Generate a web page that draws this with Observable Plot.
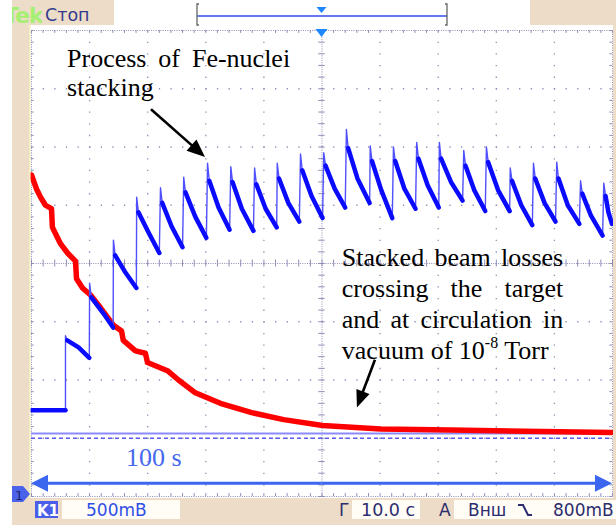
<!DOCTYPE html>
<html><head><meta charset="utf-8">
<script src="https://cdn.jsdelivr.net/npm/d3@7"></script>
<script src="https://cdn.jsdelivr.net/npm/@observablehq/plot@0.6"></script>
<style>
body{margin:0;background:#fff;}
#wrap{position:relative;width:616px;height:525px;overflow:hidden;}
#wrap svg{position:absolute;left:0;top:0;}
.serif text, .serif tspan{font-family:"Liberation Serif","Times New Roman",serif;}
.sans text{font-family:"DejaVu Sans",sans-serif;}
</style></head><body><div id="wrap"></div>
<script>
// ---------- DATA (time in s, signal in V; 10 s/div, 0.5 V/div) ----------
const blueBaseT = [0, 5.85];
const blueBaseV = [0.74, 0.74];
const jumpT   = [5.85, 10.0, 14.1, 18.1, 22.2, 26.2, 30.3, 34.3, 38.4, 42.3, 46.3, 50.3, 54.2, 58.3, 62.3, 66.3, 70.2, 74.4, 78.3, 82.4, 86.4, 90.4, 94.5, 98.5];
const peakV   = [1.38, 1.83, 2.20, 2.57, 2.65, 2.74, 2.86, 2.83, 2.82, 2.86, 2.94, 2.95, 3.15, 3.01, 3.00, 3.04, 3.04, 2.97, 3.00, 2.82, 2.86, 2.87, 2.71, 2.69];
const startV  = [1.34, 1.71, 2.07, 2.44, 2.52, 2.61, 2.71, 2.70, 2.68, 2.73, 2.80, 2.84, 2.99, 2.88, 2.88, 2.90, 2.90, 2.84, 2.87, 2.71, 2.73, 2.73, 2.60, 2.58];
const midT    = [8.1, 12.4, 16.2, 20.1, 24.1, 28.2, 32.2, 36.2, 40.3, 44.2, 48.2, 52.2, 56.1, 60.2, 64.2, 68.2, 72.2, 76.2, 80.3, 84.3, 88.3, 92.3, 96.3, 99.3];
const midV    = [1.28, 1.57, 1.92, 2.27, 2.32, 2.40, 2.48, 2.47, 2.47, 2.52, 2.58, 2.64, 2.73, 2.63, 2.64, 2.67, 2.70, 2.63, 2.63, 2.50, 2.52, 2.50, 2.41, 2.44];
const endT    = [9.95, 14.05, 18.05, 22.0, 26.0, 30.1, 34.1, 38.2, 42.2, 46.1, 50.1, 54.0, 58.2, 62.1, 66.1, 70.1, 74.2, 78.1, 82.3, 86.2, 90.2, 94.3, 98.3, 99.9];
const valleyV = [1.19, 1.45, 1.79, 2.09, 2.14, 2.22, 2.29, 2.28, 2.31, 2.36, 2.39, 2.48, 2.52, 2.39, 2.47, 2.48, 2.54, 2.45, 2.45, 2.33, 2.36, 2.34, 2.24, 2.34];

const redT = [0, 0.86, 1.55, 2.41, 3.44, 3.6, 4.99, 6.2, 7.57, 7.75, 8.78, 10.15, 11.88, 14.1, 15.5, 15.8, 17.9, 19.6, 19.97, 23.4, 25.3, 28.2, 32.5, 37.9, 43.4, 50.1, 60.1, 72.1, 99.8];
const redV = [2.76, 2.64, 2.57, 2.50, 2.47, 2.31, 2.17, 2.09, 2.02, 1.87, 1.79, 1.73, 1.62, 1.47, 1.42, 1.34, 1.25, 1.23, 1.15, 1.08, 1.00, 0.89, 0.80, 0.72, 0.66, 0.61, 0.58, 0.57, 0.55];

const refSolid = [0.54];
const refDashed = [0.50];

// axis ticks / grid
const majorT = [10, 20, 30, 40, 60, 70, 80, 90];
const majorV = [0.5, 1, 1.5, 2.5, 3, 3.5];
const minorT = d3.range(0, 100.001, 2);
const minorV = d3.range(0, 4.0001, 0.1);

// texts
const noteA = ["Process of Fe-nuclei", "stacking"];
const noteB = ["Stacked beam losses", "crossing the target", "and at circulation in"];
const noteB4 = ["vacuum of 10", "-8", " Torr"];
const spanLabel = "100 s";
const hdrState = "Стоп";
const ftrCh = "K1", ftrVolt = "500mB", ftrTimeLbl = "Г", ftrTime = "10.0 c", ftrTrigLbl = "A", ftrTrigSrc = "Внш", ftrTrigLvl = "800mB";

// ---------- build tables ----------
const blueThick = blueBaseT.map((t, i) => ({t, v: blueBaseV[i], c: -1}));
const blueThin = [];
jumpT.forEach((t, i) => {
  blueThick.push({t: t + 0.3, v: startV[i], c: i}, {t: midT[i], v: midV[i], c: i}, {t: endT[i], v: valleyV[i], c: i});
  const pv = i === 0 ? blueBaseV[1] : valleyV[i - 1];
  const pt = i === 0 ? blueBaseT[1] : endT[i - 1];
  blueThin.push({t: pt, v: pv, c: i}, {t: t, v: peakV[i], c: i}, {t: t + 0.3, v: startV[i], c: i});
});
const red = redT.map((t, i) => ({t, v: redV[i]}));

const gridC = "#8e8eb8";

const chart = Plot.plot({
  width: 616, height: 525,
  marginLeft: 31, marginRight: 4, marginTop: 30, marginBottom: 29,
  x: {domain: [0, 100], axis: null},
  y: {domain: [0, 4], axis: null},
  style: {background: "white", overflow: "visible"},
  marks: [
    Plot.ruleX(majorT, {stroke: gridC, strokeWidth: 1.3, strokeDasharray: "1.3,10.35"}),
    Plot.ruleY(majorV, {stroke: gridC, strokeWidth: 1.3, strokeDasharray: "1.3,10.32"}),
    Plot.ruleX([50], {stroke: gridC, strokeWidth: 1, strokeDasharray: "1,1.3"}),
    Plot.ruleY([2], {stroke: gridC, strokeWidth: 1, strokeDasharray: "1,1.3"}),
    Plot.ruleX(minorT, {y1: 2 - 0.03, y2: 2 + 0.03, stroke: gridC, strokeWidth: 1}),
    Plot.ruleY(minorV, {x1: 50 - 0.55, x2: 50 + 0.55, stroke: gridC, strokeWidth: 1}),
    Plot.frame({stroke: gridC, strokeDasharray: "1,1.3"}),
    Plot.ruleX(minorT, {y1: 4, y2: 3.975, stroke: gridC}),
    Plot.ruleX(minorT, {y1: 0, y2: 0.025, stroke: gridC}),
    Plot.ruleY(minorV, {x1: 0, x2: 0.45, stroke: gridC}),
    Plot.ruleY(minorV, {x1: 100, x2: 99.55, stroke: gridC}),
    Plot.ruleY(refDashed, {stroke: "#5c5cf0", strokeWidth: 1.3, strokeDasharray: "4,3"}),
    Plot.ruleY(refSolid, {stroke: "#8a8cff", strokeWidth: 2}),
    Plot.line(red, {x: "t", y: "v", stroke: "#ff0000", strokeWidth: 5.5}),
    Plot.line(blueThin, {x: "t", y: "v", z: "c", stroke: "#5050ff", strokeWidth: 1.4}),
    Plot.line(blueThick, {x: "t", y: "v", z: "c", stroke: "#0a0aff", strokeWidth: 4.5})
  ]
});
document.getElementById("wrap").appendChild(chart);

const sx = chart.scale("x"), sy = chart.scale("y");
const svg = d3.select(chart);
const X = t => sx.apply(t), Y = v => sy.apply(v);

// ---------- annotations ----------
const ga = svg.append("g").attr("class", "serif").attr("font-size", 26).attr("fill", "#000").attr("text-anchor", "start");
function justified(line, t0, t1, v) {
  const words = line.split(" ");
  const x0 = X(t0), x1 = X(t1), y = Y(v);
  const els = words.map(w => ga.append("text").attr("y", y).attr("x", x0).text(w));
  const widths = els.map(e => e.node().getComputedTextLength());
  const gap = (x1 - x0 - d3.sum(widths)) / (words.length - 1);
  let x = x0;
  els.forEach((e, i) => { e.attr("x", x); x += widths[i] + gap; });
}
justified(noteA[0], 6.2, 44.6, 3.685);
ga.append("text").attr("x", X(6.2)).attr("y", Y(3.43)).text(noteA[1]);
const bV = [1.97, 1.706, 1.443];
noteB.forEach((l, i) => justified(l, 53.5, 91.6, bV[i]));
const t4 = ga.append("text").attr("x", X(53.5)).attr("y", Y(1.18));
t4.append("tspan").text(noteB4[0]);
t4.append("tspan").attr("font-size", 16).attr("dy", -11).text(noteB4[1]);
t4.append("tspan").attr("dy", 11).text(noteB4[2]);

function arrow(t0, v0, t1, v1, color, w, len, half, g) {
  const x0 = X(t0), y0 = Y(v0), x1 = X(t1), y1 = Y(v1);
  const a = Math.atan2(y1 - y0, x1 - x0);
  const bx = x1 - len * Math.cos(a), by = y1 - len * Math.sin(a);
  g.append("line").attr("x1", x0).attr("y1", y0).attr("x2", bx + 2 * Math.cos(a)).attr("y2", by + 2 * Math.sin(a))
    .attr("stroke", color).attr("stroke-width", w);
  const px = -Math.sin(a) * half, py = Math.cos(a) * half;
  g.append("polygon").attr("points", `${x1},${y1} ${bx + px},${by + py} ${bx - px},${by - py}`).attr("fill", color);
}
arrow(20.65, 3.32, 29.95, 2.91, "#000", 2.6, 18, 7.5, ga);
arrow(59.2, 1.17, 56.1, 0.76, "#000", 2.6, 17, 7, ga);

// span arrow + label
const gs = svg.append("g").attr("class", "serif").attr("text-anchor", "start");
const midSpan = 50;
arrow(midSpan, 0.11, 0, 0.11, "#3a66f0", 3, 17, 8.5, gs);
arrow(midSpan, 0.11, 100, 0.11, "#3a66f0", 3, 17, 8.5, gs);
gs.append("text").attr("x", X(16.35)).attr("y", Y(0.26)).attr("font-size", 26)
  .attr("fill", "#4568ee").text(spanLabel);

// trigger marker at top of screen
const cx = X(50);
svg.append("polygon").attr("points", `${cx - 6},29 ${cx + 6},29 ${cx},37`).attr("fill", "#1e86ff");

// ---------- oscilloscope chrome ----------
const beige = "#ecdcc8";
const ch = svg.append("g").attr("class", "sans").attr("text-anchor", "start");
ch.append("rect").attr("x", 12).attr("y", 0).attr("width", 17).attr("height", 525).attr("fill", beige);
ch.append("rect").attr("x", 29).attr("y", 25).attr("width", 1.6).attr("height", 473).attr("fill", "#f4eec4");
ch.append("rect").attr("x", 12).attr("y", 0).attr("width", 102).attr("height", 25).attr("fill", beige);
ch.append("rect").attr("x", 530).attr("y", 0).attr("width", 86).attr("height", 25).attr("fill", beige);
ch.append("rect").attr("x", 613).attr("y", 0).attr("width", 3).attr("height", 525).attr("fill", beige);
ch.append("rect").attr("x", 12).attr("y", 498).attr("width", 604).attr("height", 27).attr("fill", beige);

// header
const clip = svg.append("defs").append("clipPath").attr("id", "tekclip");
clip.append("rect").attr("x", 12).attr("y", 0).attr("width", 30).attr("height", 25);
ch.append("text").attr("clip-path", "url(#tekclip)").attr("x", 4).attr("y", 23)
  .attr("font-weight", "bold").attr("font-size", 22).attr("fill", "#a6ef72").attr("letter-spacing", -1).text("Tek");
ch.append("text").attr("x", 45).attr("y", 21).attr("font-size", 17.5).attr("fill", "#343b8e").text(hdrState);
ch.append("line").attr("x1", 197).attr("x2", 447).attr("y1", 16).attr("y2", 16).attr("stroke", "#6677f0").attr("stroke-width", 2);
ch.append("path").attr("d", "M199,4 H197 V25 H199 M445,4 H447 V25 H445").attr("fill", "none").attr("stroke", "#666").attr("stroke-width", 1.3);
ch.append("polygon").attr("points", `${cx - 5},7 ${cx + 5},7 ${cx},13`).attr("fill", "#1e86ff");

// channel marker
ch.append("polygon").attr("points", "12,486 23,486 30,494 23,502 12,502").attr("fill", "#4a62ea");
ch.append("text").attr("x", 15).attr("y", 500).attr("font-size", 13).attr("fill", "#1c2670").text("1");

// footer
ch.append("rect").attr("x", 35).attr("y", 501).attr("width", 23).attr("height", 17).attr("fill", "#4a5ee8");
ch.append("text").attr("x", 37).attr("y", 516).attr("font-size", 15).attr("font-weight", "bold").attr("fill", "#ffffff").text(ftrCh);
ch.append("rect").attr("x", 62).attr("y", 500).attr("width", 118).attr("height", 19).attr("fill", "#fffdf6");
ch.append("text").attr("x", 86).attr("y", 516).attr("font-size", 17).attr("fill", "#2f4ee6").text(ftrVolt);
ch.append("text").attr("x", 339).attr("y", 516).attr("font-size", 17).attr("fill", "#2c2c6e").text(ftrTimeLbl);
ch.append("rect").attr("x", 352).attr("y", 500).attr("width", 68).attr("height", 19).attr("fill", "#fffdf6");
ch.append("text").attr("x", 361).attr("y", 516).attr("font-size", 17.5).attr("fill", "#2c2c6e").text(ftrTime);
ch.append("text").attr("x", 439).attr("y", 516).attr("font-size", 17).attr("fill", "#2c2c6e").text(ftrTrigLbl);
ch.append("rect").attr("x", 454).attr("y", 500).attr("width", 162).attr("height", 19).attr("fill", "#fffdf6");
ch.append("text").attr("x", 468).attr("y", 516).attr("font-size", 17).attr("fill", "#2c2c6e").text(ftrTrigSrc);
ch.append("path").attr("d", "M518,505 H523 L528,515 H532").attr("fill", "none").attr("stroke", "#2c2c6e").attr("stroke-width", 2);
ch.append("text").attr("x", 553).attr("y", 516).attr("font-size", 17).attr("fill", "#2c2c6e").text(ftrTrigLvl);
</script></body></html>
